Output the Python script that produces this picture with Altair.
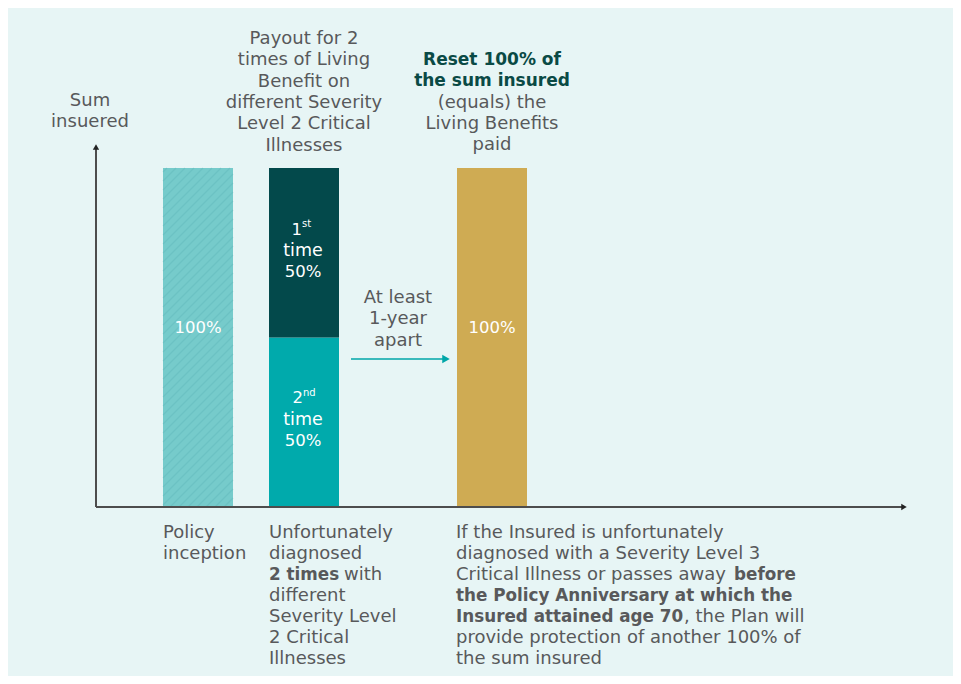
import altair as alt
import pandas as pd

# ---------------- data ----------------
bar_names = ["Policy inception", "2nd time", "1st time", "Reset"]
bar_slot = [1.02, 2.08, 2.08, 3.96]          # position on the timeline
bar_low = [0, 0, 50, 0]                      # % of sum insured
bar_high = [100, 50, 100, 100]
bar_colors = ["#76CBCB", "#00AAAC", "#03494B", "#CFAB53"]

bar_value_labels = ["100%", "100%"]
first_lines = ["time", "50%"]
second_lines = ["time", "50%"]

y_title_lines = ["Sum", "insuered"]
payout_lines = ["Payout for 2", "times of Living", "Benefit on",
                "different Severity", "Level 2 Critical", "Illnesses"]
reset_bold_lines = ["Reset 100% of", "the sum insured"]
reset_lines = ["(equals) the", "Living Benefits", "paid"]
arrow_lines = ["At least", "1-year", "apart"]
inception_lines = ["Policy", "inception"]
diag_lines = ["Unfortunately", "diagnosed", None, "different",
              "Severity Level", "2 Critical", "Illnesses"]
diag_mixed = ("2 times", "with")
if_lines = ["If the Insured is unfortunately", "diagnosed with a Severity Level 3",
            None, "the Policy Anniversary at which the", None,
            "provide protection of another 100% of", "the sum insured"]
if_line3 = ("Critical Illness or passes away", "before")
if_line5 = ("Insured attained age 70", ", the Plan will")

# ---------------- layout helpers ----------------
W, H = 945, 668
PXU = 100.0   # px per timeline unit
PYV = 3.39    # px per % point
OX, OY = 96, 507  # origin in page px
XMIN = (8 - OX) / PXU
XMAX = XMIN + W / PXU
YMAX = (OY - 8) / PYV
YMIN = YMAX - H / PYV


def U(px):
    return (px - OX) / PXU


def V(py):
    return (OY - py) / PYV


xs = alt.Scale(domain=[XMIN, XMAX], nice=False, zero=False)
ys = alt.Scale(domain=[YMIN, YMAX], nice=False, zero=False)
FONT = "DejaVu Sans"
GREY = "#58595B"
FS = 18
FB = 16.8
HALF = 0.35

bars = pd.DataFrame({"name": bar_names, "slot": bar_slot, "low": bar_low,
                     "high": bar_high, "color": bar_colors})
bars["x0"] = bars["slot"] - HALF
bars["x1"] = bars["slot"] + HALF

bar_layer = alt.Chart(bars).mark_rect().encode(
    x=alt.X("x0:Q", scale=xs, axis=None), x2="x1:Q",
    y=alt.Y("low:Q", scale=ys, axis=None), y2="high:Q",
    color=alt.Color("color:N", scale=None))

# hatch on first bar (decoration)
b0 = bars.iloc[0]
bx0, bx1 = OX + b0.x0 * PXU, OX + b0.x1 * PXU
by0, by1 = OY - b0.high * PYV, OY - b0.low * PYV
hatch = []
c = bx0 + by0 + 4
while c < bx1 + by1:
    xa = max(bx0, c - by1); ya = c - xa
    xb = min(bx1, c - by0); yb = c - xb
    hatch.append({"x": U(xa), "y": V(ya), "x2": U(xb), "y2": V(yb)})
    c += 9
hatch_layer = alt.Chart(pd.DataFrame(hatch)).mark_rule(
    color="#62B9BA", strokeWidth=1.3, opacity=0.45).encode(
    x=alt.X("x:Q", scale=xs), y=alt.Y("y:Q", scale=ys), x2="x2:Q", y2="y2:Q")

# axes lines with arrows
axis_df = pd.DataFrame({"x": [U(96), U(96)], "y": [V(507), V(507)],
                        "x2": [U(96), U(903)], "y2": [V(149), V(507)]})
axis_layer = alt.Chart(axis_df).mark_rule(color="#4D4D4D", strokeWidth=2).encode(
    x=alt.X("x:Q", scale=xs), y=alt.Y("y:Q", scale=ys), x2="x2:Q", y2="y2:Q")
up_head = alt.Chart(pd.DataFrame({"x": [U(96)], "y": [V(147)]})).mark_point(
    shape="triangle-up", filled=True, color="#222222", opacity=1, size=40).encode(
    x=alt.X("x:Q", scale=xs), y=alt.Y("y:Q", scale=ys))
right_head = alt.Chart(pd.DataFrame({"x": [U(904)], "y": [V(507)]})).mark_point(
    shape="triangle-right", filled=True, color="#222222", opacity=1, size=40).encode(
    x=alt.X("x:Q", scale=xs), y=alt.Y("y:Q", scale=ys))

# teal arrow between bars
arr_df = pd.DataFrame({"x": [U(351)], "x2": [U(443)], "y": [V(359)]})
arr_line = alt.Chart(arr_df).mark_rule(color="#00A6A8", strokeWidth=1.5).encode(
    x=alt.X("x:Q", scale=xs), x2="x2:Q", y=alt.Y("y:Q", scale=ys))
arr_head = alt.Chart(pd.DataFrame({"x": [U(446)], "y": [V(359)]})).mark_point(
    shape="triangle-right", filled=True, color="#00A6A8", opacity=1, size=75).encode(
    x=alt.X("x:Q", scale=xs), y=alt.Y("y:Q", scale=ys))

# ---------------- text ----------------
rows = []


def add(px, py, text, color=GREY, size=FS, weight="normal", align="center"):
    rows.append({"x": U(px), "y": V(py), "text": text, "color": color,
                 "size": size, "weight": weight, "align": align})


LH = 21.3
LB = 21.1
for i, t in enumerate(y_title_lines):
    add(90, 100.5 + i * 21.1, t)
for i, t in enumerate(payout_lines):
    add(304, 39 + i * LH, t)
for i, t in enumerate(reset_bold_lines):
    add(492, 60 + i * LH, t, color="#0A4A45", weight="bold", size=17)
for i, t in enumerate(reset_lines):
    add(492, 102.5 + i * LH, t)
for i, t in enumerate(arrow_lines):
    add(398, 297.5 + i * 21.5, t)

# bar labels
add(198, 327.5, bar_value_labels[0], color="white", size=16.5)
add(492, 327.5, bar_value_labels[1], color="white", size=16.5)
add(302, 229.5, "1", color="white", size=16.5, align="right")
add(302, 223.5, "st", color="white", size=10, align="left")
for i, t in enumerate(first_lines):
    add(303, 250.5 + i * 21, t, color="white", size=17.5 if i == 0 else 16.5)
add(303, 397.5, "2", color="white", size=16.5, align="right")
add(303, 392.5, "nd", color="white", size=10, align="left")
for i, t in enumerate(second_lines):
    add(303, 419.5 + i * 21, t, color="white", size=17.5 if i == 0 else 16.5)

# bottom labels
for i, t in enumerate(inception_lines):
    add(163, 532.5 + i * LB, t, align="left")
for i, t in enumerate(diag_lines):
    if t is not None:
        add(269, 532.5 + i * LB, t, align="left")
add(269, 532.5 + 2 * LB, diag_mixed[0], weight="bold", size=FB, align="left")
add(344, 532.5 + 2 * LB, diag_mixed[1], align="left")
for i, t in enumerate(if_lines):
    if t is None:
        continue
    add(456, 532.5 + i * LB, t, weight="bold" if i == 3 else "normal",
        size=FB if i == 3 else FS, align="left")
add(456, 532.5 + 2 * LB, if_line3[0], align="left")
add(734, 532.5 + 2 * LB, if_line3[1], weight="bold", size=FB, align="left")
add(456, 532.5 + 4 * LB, if_line5[0], weight="bold", size=FB, align="left")
add(684, 532.5 + 4 * LB, if_line5[1], align="left")

tdf = pd.DataFrame(rows)
text_layers = []
for (w, a), g in tdf.groupby(["weight", "align"]):
    text_layers.append(
        alt.Chart(g).mark_text(font=FONT, fontWeight=w, align=a, baseline="middle").encode(
            x=alt.X("x:Q", scale=xs), y=alt.Y("y:Q", scale=ys),
            text="text:N", color=alt.Color("color:N", scale=None),
            size=alt.Size("size:Q", scale=None)))

chart = alt.layer(bar_layer, hatch_layer, axis_layer, up_head, right_head,
                  arr_line, arr_head, *text_layers).properties(
    width=W, height=H, padding=0, background="#E7F5F5",
    autosize=alt.AutoSizeParams(type="none")
).configure_view(stroke=None)

chart.save("out.html", embed_options={"renderer": "svg", "actions": False})
